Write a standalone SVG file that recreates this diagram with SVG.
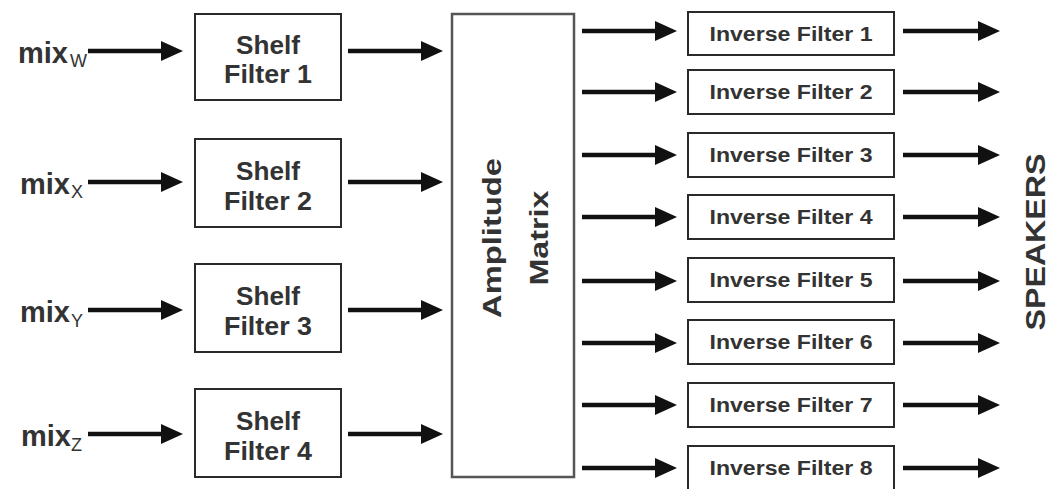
<svg xmlns="http://www.w3.org/2000/svg" width="1050" height="489" viewBox="0 0 1050 489">
  <style>
    .box { fill: #ffffff; stroke: #2a2a2a; stroke-width: 2; }
    .mbox { fill: #ffffff; stroke: #555555; stroke-width: 2.5; }
    .lbl { font-family: "Liberation Sans", Arial, sans-serif; font-weight: bold; fill: #333333; }
    .shelf { font-size: 25px; text-anchor: middle; }
    .inv { font-size: 20px; text-anchor: middle; }
    .mix { font-size: 29px; }
    .sub { font-family: "Liberation Sans", Arial, sans-serif; font-size: 18px; fill: #333333; }
    .wire { fill: none; stroke: #111111; stroke-width: 4.5; marker-end: url(#head); }
  </style>
  <defs>
    <marker id="head" viewBox="0 0 22 20" markerWidth="22" markerHeight="20" refX="1" refY="10" orient="auto" markerUnits="userSpaceOnUse">
      <path d="M0,0 L22,10 L0,20 z" fill="#111111"/>
    </marker>
  </defs>
  <rect width="1050" height="489" fill="#ffffff"/>

  <!-- input labels -->
  <g id="in-w"><text class="lbl mix" x="18" y="63">mix</text><text class="sub" x="70" y="67">W</text></g>
  <g id="in-x"><text class="lbl mix" x="20" y="194">mix</text><text class="sub" x="71" y="198">X</text></g>
  <g id="in-y"><text class="lbl mix" x="20" y="322">mix</text><text class="sub" x="71" y="327">Y</text></g>
  <g id="in-z"><text class="lbl mix" x="21" y="446">mix</text><text class="sub" x="71" y="451">Z</text></g>

  <!-- shelf filters -->
  <g id="shelf1">
    <rect class="box" x="195" y="14" width="146" height="86"/>
    <text class="lbl shelf" x="268" y="54" textLength="64" lengthAdjust="spacingAndGlyphs">Shelf</text>
    <text class="lbl shelf" x="268" y="83" textLength="88" lengthAdjust="spacingAndGlyphs">Filter 1</text>
  </g>
  <g id="shelf2">
    <rect class="box" x="195" y="139" width="146" height="88"/>
    <text class="lbl shelf" x="268" y="180" textLength="64" lengthAdjust="spacingAndGlyphs">Shelf</text>
    <text class="lbl shelf" x="268" y="210" textLength="88" lengthAdjust="spacingAndGlyphs">Filter 2</text>
  </g>
  <g id="shelf3">
    <rect class="box" x="195" y="264" width="146" height="88"/>
    <text class="lbl shelf" x="268" y="305" textLength="64" lengthAdjust="spacingAndGlyphs">Shelf</text>
    <text class="lbl shelf" x="268" y="335" textLength="88" lengthAdjust="spacingAndGlyphs">Filter 3</text>
  </g>
  <g id="shelf4">
    <rect class="box" x="195" y="389" width="146" height="88"/>
    <text class="lbl shelf" x="268" y="430" textLength="64" lengthAdjust="spacingAndGlyphs">Shelf</text>
    <text class="lbl shelf" x="268" y="460" textLength="88" lengthAdjust="spacingAndGlyphs">Filter 4</text>
  </g>

  <!-- amplitude matrix -->
  <g id="matrix">
    <rect class="mbox" x="452" y="14" width="122" height="463"/>
    <text class="lbl" font-size="25" text-anchor="middle" transform="translate(501,238) rotate(-90)" textLength="160" lengthAdjust="spacingAndGlyphs">Amplitude</text>
    <text class="lbl" font-size="25" text-anchor="middle" transform="translate(548,238) rotate(-90)" textLength="95" lengthAdjust="spacingAndGlyphs">Matrix</text>
  </g>

  <!-- inverse filters -->
  <g id="inv1"><rect class="box" x="688" y="12" width="206" height="43"/><text class="lbl inv" x="791" y="41" textLength="163" lengthAdjust="spacingAndGlyphs">Inverse Filter 1</text></g>
  <g id="inv2"><rect class="box" x="688" y="70" width="206" height="44"/><text class="lbl inv" x="791" y="99" textLength="163" lengthAdjust="spacingAndGlyphs">Inverse Filter 2</text></g>
  <g id="inv3"><rect class="box" x="688" y="133" width="206" height="44"/><text class="lbl inv" x="791" y="162" textLength="163" lengthAdjust="spacingAndGlyphs">Inverse Filter 3</text></g>
  <g id="inv4"><rect class="box" x="688" y="195" width="206" height="44"/><text class="lbl inv" x="791" y="224" textLength="163" lengthAdjust="spacingAndGlyphs">Inverse Filter 4</text></g>
  <g id="inv5"><rect class="box" x="688" y="258" width="206" height="44"/><text class="lbl inv" x="791" y="287" textLength="163" lengthAdjust="spacingAndGlyphs">Inverse Filter 5</text></g>
  <g id="inv6"><rect class="box" x="688" y="320" width="206" height="44"/><text class="lbl inv" x="791" y="349" textLength="163" lengthAdjust="spacingAndGlyphs">Inverse Filter 6</text></g>
  <g id="inv7"><rect class="box" x="688" y="383" width="206" height="44"/><text class="lbl inv" x="791" y="412" textLength="163" lengthAdjust="spacingAndGlyphs">Inverse Filter 7</text></g>
  <g id="inv8"><rect class="box" x="688" y="446" width="206" height="44"/><text class="lbl inv" x="791" y="475" textLength="163" lengthAdjust="spacingAndGlyphs">Inverse Filter 8</text></g>

  <!-- output label -->
  <g id="speakers">
    <text class="lbl" font-size="28" text-anchor="middle" transform="translate(1045,242) rotate(-90)" textLength="177" lengthAdjust="spacingAndGlyphs">SPEAKERS</text>
  </g>

  <!-- signal connectors -->
  <g id="connectors">
    <path class="wire" d="M88,51 H162"/>
    <path class="wire" d="M88,182 H162"/>
    <path class="wire" d="M88,310 H162"/>
    <path class="wire" d="M88,434 H162"/>

    <path class="wire" d="M348,51 H422"/>
    <path class="wire" d="M348,182 H422"/>
    <path class="wire" d="M348,310 H422"/>
    <path class="wire" d="M348,434 H422"/>

    <path class="wire" d="M582,31 H656"/>
    <path class="wire" d="M582,92 H656"/>
    <path class="wire" d="M582,155 H656"/>
    <path class="wire" d="M582,217 H656"/>
    <path class="wire" d="M582,281 H656"/>
    <path class="wire" d="M582,343 H656"/>
    <path class="wire" d="M582,405 H656"/>
    <path class="wire" d="M582,468 H656"/>

    <path class="wire" d="M903,31 H979"/>
    <path class="wire" d="M903,92 H979"/>
    <path class="wire" d="M903,155 H979"/>
    <path class="wire" d="M903,217 H979"/>
    <path class="wire" d="M903,281 H979"/>
    <path class="wire" d="M903,343 H979"/>
    <path class="wire" d="M903,405 H979"/>
    <path class="wire" d="M903,468 H979"/>
  </g>
</svg>
